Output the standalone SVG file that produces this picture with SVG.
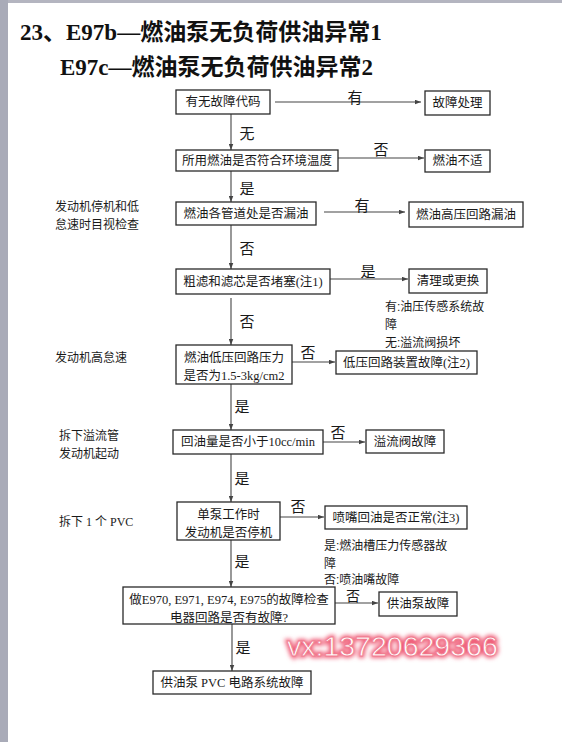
<svg xmlns="http://www.w3.org/2000/svg" width="562" height="742" viewBox="0 0 562 742">
<style>
.box{fill:#fff;stroke:#2a2a2a;stroke-width:1.3}
.bt{font-family:"Liberation Serif","Noto Sans CJK SC",serif;font-size:12.5px;fill:#1a1a1a;text-anchor:middle;dominant-baseline:central}
.lbl{font-family:"Noto Sans CJK SC",sans-serif;font-size:15px;fill:#1a1a1a;text-anchor:middle;dominant-baseline:central}
.side{font-family:"Liberation Serif","Noto Sans CJK SC",serif;font-size:12px;fill:#1a1a1a;dominant-baseline:central}
.note{font-family:"Liberation Sans","Noto Sans CJK SC",sans-serif;font-size:12px;fill:#1a1a1a;dominant-baseline:central}
.title{font-family:"Liberation Serif","Noto Sans CJK SC",serif;font-size:23px;font-weight:bold;fill:#111}
.conn line{stroke:#444;stroke-width:1.1;marker-end:url(#ah)}
</style>
<defs>
<marker id="ah" viewBox="0 0 8 6" refX="8" refY="3" markerWidth="6" markerHeight="5" markerUnits="userSpaceOnUse" orient="auto"><path d="M0,0 L8,3 L0,6 z" fill="#444"/></marker>
<filter id="glow" x="-10%" y="-40%" width="120%" height="180%"><feGaussianBlur stdDeviation="2.2"/></filter>
</defs>
<rect x="0" y="0" width="562" height="742" fill="#fff"/>
<rect x="0" y="0" width="562" height="3" fill="#b4b5c0"/>
<rect x="0" y="0" width="8" height="742" fill="#a9abb8"/>

<g id="title">
<text class="title" x="20" y="40">23、E97b—燃油泵无负荷供油异常1</text>
<text class="title" x="60" y="75">E97c—燃油泵无负荷供油异常2</text>
</g>

<g id="conn" class="conn">
<line x1="275" y1="102" x2="421" y2="102"/>
<line x1="231" y1="114" x2="231" y2="150"/>
<line x1="338" y1="158" x2="424" y2="158"/>
<line x1="231" y1="170" x2="231" y2="202"/>
<line x1="324" y1="212" x2="405" y2="212"/>
<line x1="231" y1="225" x2="231" y2="269"/>
<line x1="330" y1="279" x2="408" y2="279"/>
<line x1="231" y1="298" x2="231" y2="345"/>
<line x1="292" y1="362" x2="335" y2="362"/>
<line x1="231" y1="384" x2="231" y2="430"/>
<line x1="323" y1="442" x2="365" y2="442"/>
<line x1="231" y1="454" x2="231" y2="502"/>
<line x1="280" y1="517" x2="324" y2="517"/>
<line x1="231" y1="540" x2="231" y2="587"/>
<line x1="335" y1="603" x2="378" y2="603"/>
<line x1="232" y1="624" x2="232" y2="671"/>
</g>

<g id="labels">
<text class="lbl" x="355" y="96">有</text>
<text class="lbl" x="247" y="132">无</text>
<text class="lbl" x="381" y="148">否</text>
<text class="lbl" x="247" y="187">是</text>
<text class="lbl" x="362" y="204">有</text>
<text class="lbl" x="247" y="247">否</text>
<text class="lbl" x="368" y="270">是</text>
<text class="lbl" x="247" y="320">否</text>
<text class="lbl" x="308" y="351">否</text>
<text class="lbl" x="242" y="405">是</text>
<text class="lbl" x="338" y="431">否</text>
<text class="lbl" x="242" y="477">是</text>
<text class="lbl" x="298" y="505">否</text>
<text class="lbl" x="242" y="560">是</text>
<text class="lbl" x="353" y="595" style="font-size:14px">否</text>
<text class="lbl" x="243" y="646">是</text>
</g>

<g id="n1"><rect class="box" x="176" y="90" width="94" height="24"/><text class="bt" x="223" y="102">有无故障代码</text></g>
<g id="n2"><rect class="box" x="425" y="91" width="65" height="24"/><text class="bt" x="457.5" y="103">故障处理</text></g>
<g id="n3"><rect class="box" x="176" y="150" width="162" height="21"/><text class="bt" x="257" y="160.5">所用燃油是否符合环境温度</text></g>
<g id="n4"><rect class="box" x="425" y="150" width="65" height="22"/><text class="bt" x="457.5" y="161">燃油不适</text></g>
<g id="n5"><rect class="box" x="176" y="202" width="140" height="23"/><text class="bt" x="246" y="213.5">燃油各管道处是否漏油</text></g>
<g id="n6"><rect class="box" x="409" y="202" width="114" height="25"/><text class="bt" x="466" y="214.5">燃油高压回路漏油</text></g>
<g id="n7"><rect class="box" x="176" y="269" width="154" height="25"/><text class="bt" x="253" y="281.5">粗滤和滤芯是否堵塞(注1)</text></g>
<g id="n8"><rect class="box" x="409" y="269" width="78" height="24"/><text class="bt" x="448" y="281">清理或更换</text></g>
<g id="n9"><rect class="box" x="176" y="345" width="116" height="39"/><text class="bt" x="234" y="358">燃油低压回路压力</text><text class="bt" x="234" y="376">是否为1.5-3kg/cm2</text></g>
<g id="n10"><rect class="box" x="336" y="351" width="141" height="23"/><text class="bt" x="406.5" y="362.5">低压回路装置故障(注2)</text></g>
<g id="n11"><rect class="box" x="173" y="430" width="150" height="24"/><text class="bt" x="248" y="442">回油量是否小于10cc/min</text></g>
<g id="n12"><rect class="box" x="366" y="430" width="78" height="23"/><text class="bt" x="405" y="441.5">溢流阀故障</text></g>
<g id="n13"><rect class="box" x="177" y="502" width="103" height="38"/><text class="bt" x="228.5" y="515">单泵工作时</text><text class="bt" x="228.5" y="533">发动机是否停机</text></g>
<g id="n14"><rect class="box" x="325" y="506" width="142" height="23"/><text class="bt" x="396" y="517.5">喷嘴回油是否正常(注3)</text></g>
<g id="n15"><rect class="box" x="123" y="587" width="212" height="37"/><text class="bt" x="229" y="600">做E970, E971, E974, E975的故障检查</text><text class="bt" x="229" y="618">电器回路是否有故障?</text></g>
<g id="n16"><rect class="box" x="379" y="592" width="78" height="24"/><text class="bt" x="418" y="604">供油泵故障</text></g>
<g id="n17"><rect class="box" x="153" y="671" width="158" height="23"/><text class="bt" x="232" y="682.5">供油泵 PVC 电路系统故障</text></g>

<g id="side">
<text class="side" x="55" y="207">发动机停机和低</text>
<text class="side" x="55" y="225">怠速时目视检查</text>
<text class="side" x="55" y="358">发动机高怠速</text>
<text class="side" x="59" y="436">拆下溢流管</text>
<text class="side" x="59" y="454">发动机起动</text>
<text class="side" x="59" y="522">拆下 1 个 PVC</text>
</g>

<g id="notes">
<text class="note" x="385" y="307">有:油压传感系统故</text>
<text class="note" x="385" y="325">障</text>
<text class="note" x="385" y="343">无:溢流阀损坏</text>
<text class="note" x="324" y="546">是:燃油槽压力传感器故</text>
<text class="note" x="324" y="564">障</text>
<text class="note" x="324" y="580">否:喷油嘴故障</text>
</g>

<g id="watermark" font-family="Liberation Sans, Arial, sans-serif" font-size="28.5">
<text x="287" y="656" fill="#f0607a" stroke="#f0607a" stroke-width="4" filter="url(#glow)">vx:13720629366</text>
<text x="287" y="656" fill="#fff" stroke="#f07d90" stroke-width="0.8">vx:13720629366</text>
</g>
</svg>
